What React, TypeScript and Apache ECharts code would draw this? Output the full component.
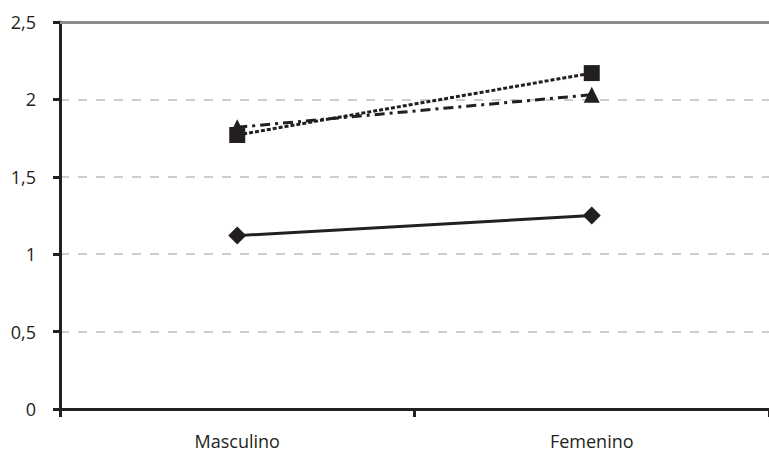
import React, { useEffect, useRef } from "react";
import * as echarts from "echarts";

const categories = ["Masculino", "Femenino"];
const seriesDiamond = [1.12, 1.25];
const seriesSquare = [1.77, 2.17];
const seriesTriangle = [1.82, 2.03];
const yTicks = [0, 0.5, 1, 1.5, 2, 2.5];

export default function App() {
  const ref = useRef<HTMLDivElement>(null);
  useEffect(() => {
    document.body.style.margin = "0";
    const chart = echarts.init(ref.current!, null, { renderer: "svg" });
    const font = "'Open Sans', Lato, sans-serif";
    chart.setOption({
      animation: false,
      grid: { left: 60, top: 22, width: 712, height: 387, containLabel: false },
      xAxis: [
        {
          type: "category",
          data: categories,
          boundaryGap: true,
          axisLine: { lineStyle: { color: "#231f20", width: 3 } },
          axisTick: { show: true, length: 8, lineStyle: { color: "#231f20", width: 3 } },
          axisLabel: { color: "#231f20", fontSize: 18, fontFamily: font, margin: 23 },
        },
        {
          type: "category",
          data: categories,
          position: "top",
          axisLine: { lineStyle: { color: "#8c8c8c", width: 3 } },
          axisTick: { show: false },
          axisLabel: { show: false },
        },
      ],
      yAxis: {
        type: "value",
        min: yTicks[0],
        max: yTicks[yTicks.length - 1],
        interval: 0.5,
        axisLine: { show: true, lineStyle: { color: "#231f20", width: 3 } },
        axisTick: { show: true, length: 7, lineStyle: { color: "#231f20", width: 3 } },
        axisLabel: {
          color: "#231f20",
          fontSize: 18,
          fontFamily: font,
          margin: 24,
          formatter: (v: number) => String(v).replace(".", ","),
        },
        splitLine: {
          show: true,
          lineStyle: { color: "#bdbdbd", type: [9, 9], width: 1.5 },
        },
      },
      series: [
        {
          type: "line",
          data: seriesDiamond,
          symbol: "diamond",
          symbolSize: 18,
          itemStyle: { color: "#231f20" },
          lineStyle: { color: "#231f20", width: 3, type: "solid" },
        },
        {
          type: "line",
          data: seriesTriangle,
          symbol: "triangle",
          symbolSize: 16,
          itemStyle: { color: "#231f20" },
          lineStyle: { color: "#231f20", width: 3, type: [10, 5, 3, 5] },
        },
        {
          type: "line",
          data: seriesSquare,
          symbol: "rect",
          symbolSize: 16,
          itemStyle: { color: "#231f20" },
          lineStyle: { color: "#231f20", width: 3, type: [4, 2] },
        },
      ],
    });
    return () => chart.dispose();
  }, []);
  return <div ref={ref} style={{ width: 769, height: 455 }} />;
}
